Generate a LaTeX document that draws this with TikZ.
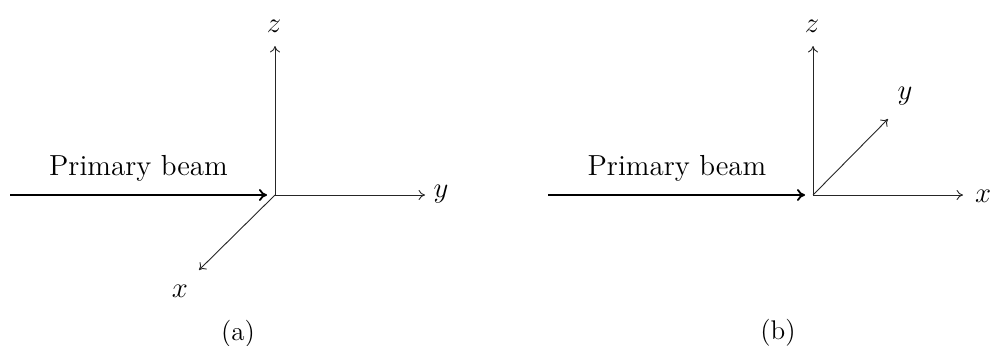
\documentclass[tikz,border=0pt]{standalone}
\usetikzlibrary{arrows.meta}
\begin{document}
\begin{tikzpicture}[x=0.5pt,y=-0.5pt,
  axis/.style={line width=0.45pt, draw=black!85, -{To[length=3.2pt,width=5pt]}},
  beam/.style={line width=0.9pt, -{To[length=4pt,width=6pt]}, shorten >=4pt},
  lbl/.style={font=\fontsize{14.5pt}{17pt}\selectfont, inner sep=0pt},
  captxt/.style={font=\fontsize{13.5pt}{16pt}\selectfont, inner sep=0pt}]
\useasboundingbox (0,0) rectangle (994,345);
% ---------- panel (a)
\coordinate (oA) at (275,195);
\coordinate (bsA) at (10,195);
\coordinate (zA) at (275,46);
\coordinate (yA) at (425,195);
\coordinate (xA) at (199,270);
\draw[beam] (bsA) -- (oA);
\draw[axis] (oA) -- (zA);
\draw[axis] (oA) -- (yA);
\draw[axis] (oA) -- (xA);
\node[lbl, anchor=base] (tA) at (138.5,175) {Primary beam};
\node[lbl, anchor=base] (lzA) at (274,32) {$z$};
\node[lbl, anchor=base] (lyA) at (441,197) {$y$};
\node[lbl, anchor=base] (lxA) at (180,297) {$x$};
\node[captxt] (cA) at (238,334) {(a)};
% ---------- panel (b)
\coordinate (oB) at (813,195);
\coordinate (bsB) at (548,195);
\coordinate (zB) at (813,46);
\coordinate (xB) at (963,195);
\coordinate (yB) at (888,119);
\draw[beam] (bsB) -- (oB);
\draw[axis] (oB) -- (zB);
\draw[axis] (oB) -- (xB);
\draw[axis] (oB) -- (yB);
\node[lbl, anchor=base] (tB) at (677,175) {Primary beam};
\node[lbl, anchor=base] (lzB) at (812,32) {$z$};
\node[lbl, anchor=base] (lyB) at (905,99) {$y$};
\node[lbl, anchor=base] (lxB) at (983,202) {$x$};
\node[captxt] (cB) at (778,333) {(b)};
\end{tikzpicture}
\end{document}
